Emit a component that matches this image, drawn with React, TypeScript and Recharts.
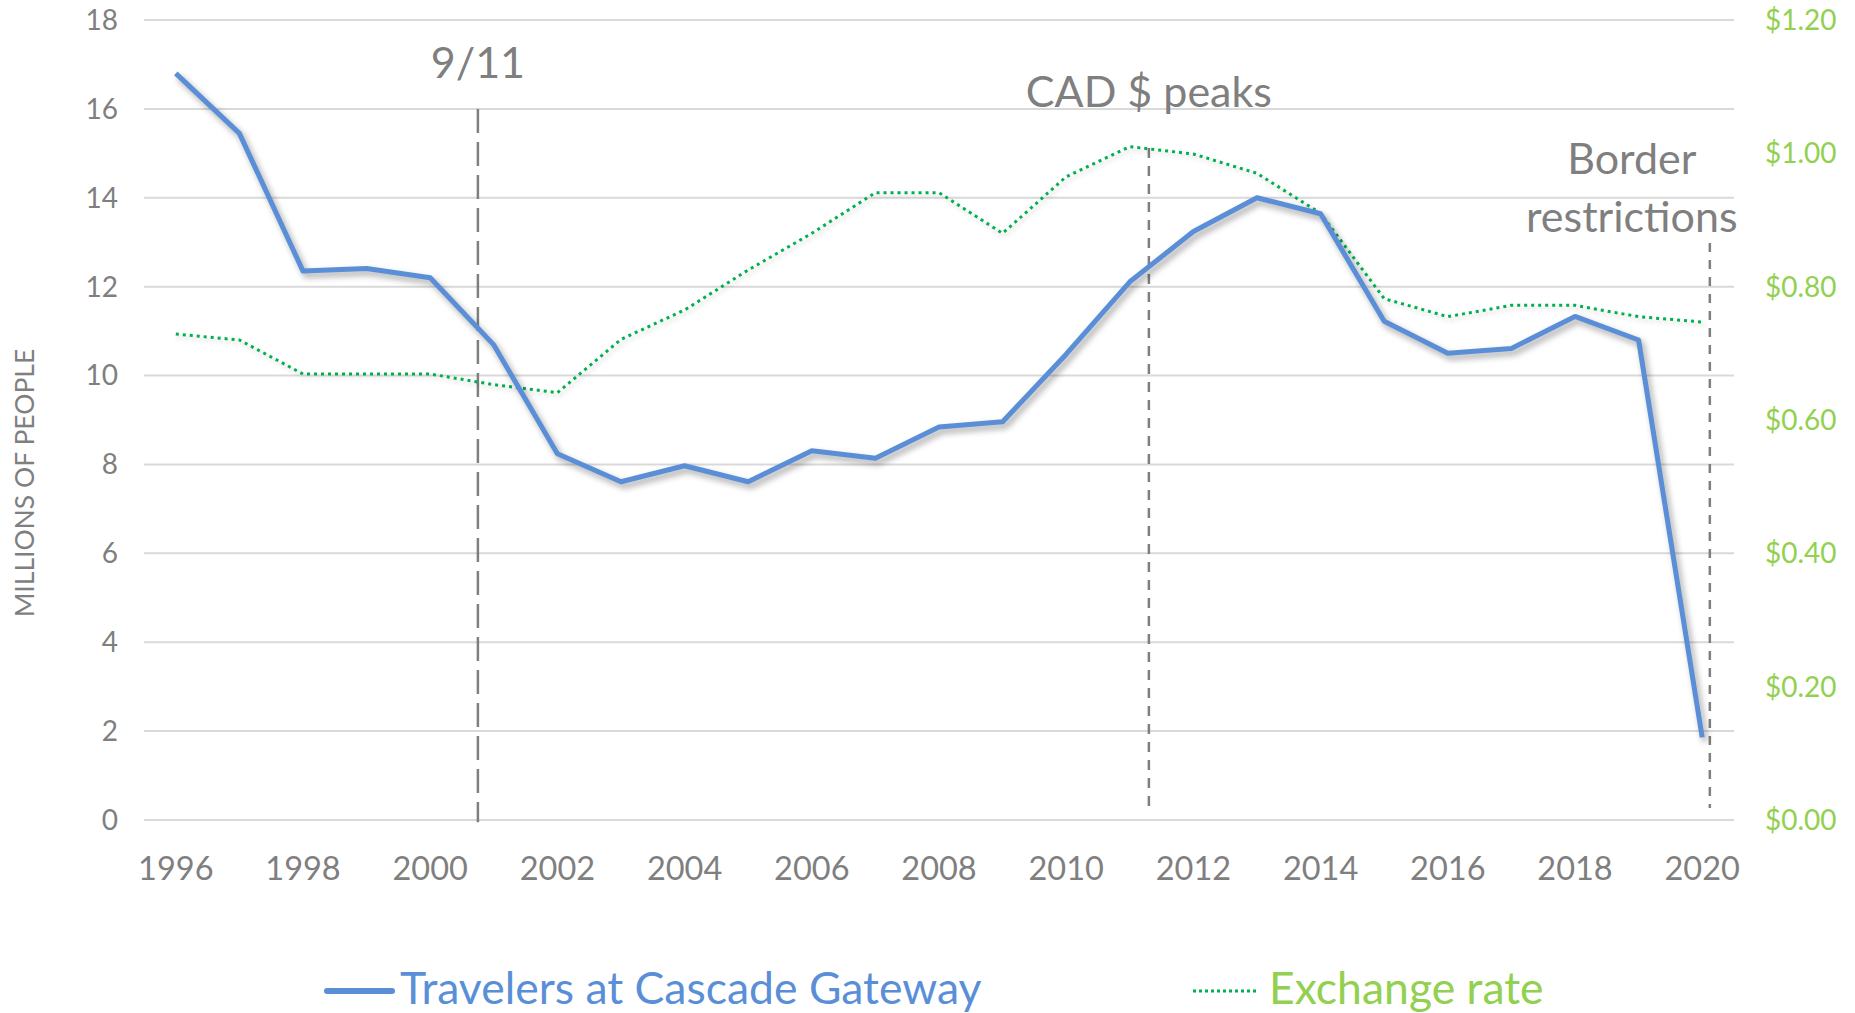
import {
  LineChart,
  Line,
  XAxis,
  YAxis,
  CartesianGrid,
  ReferenceLine,
} from "recharts";

const years = [
  1996, 1997, 1998, 1999, 2000, 2001, 2002, 2003, 2004, 2005, 2006, 2007, 2008,
  2009, 2010, 2011, 2012, 2013, 2014, 2015, 2016, 2017, 2018, 2019, 2020,
];

// millions of people crossing
const travelers = [
  16.8, 15.45, 12.35, 12.41, 12.2, 10.69, 8.24, 7.61, 7.97, 7.61, 8.31, 8.14,
  8.84, 8.96, 10.48, 12.11, 13.24, 14.0, 13.64, 11.22, 10.5, 10.61, 11.33, 10.8,
  1.86,
];

// USD per CAD
const exchange = [
  0.729, 0.72, 0.669, 0.669, 0.669, 0.653, 0.641, 0.721, 0.765, 0.825, 0.88,
  0.941, 0.941, 0.88, 0.965, 1.01, 0.999, 0.97, 0.91, 0.782, 0.755, 0.772,
  0.772, 0.755, 0.747,
];

const xTicks = [1996, 1998, 2000, 2002, 2004, 2006, 2008, 2010, 2012, 2014, 2016, 2018, 2020];
const leftTicks = [0, 2, 4, 6, 8, 10, 12, 14, 16, 18];
const rightTicks = [0, 0.2, 0.4, 0.6, 0.8, 1.0, 1.2];

// event markers: when, how far up / down the dashed line runs (left axis units)
const eventYears = [2000.75, 2011.3, 2020.12];
const eventTops = [16.0, 15.12, 12.98];
const eventBottoms = [-0.05, 0.22, 0.27];
const eventLabels = [["9/11"], ["CAD $ peaks"], ["Border", "restrictions"]];

const data = years.map((year, i) => ({
  year,
  travelers: travelers[i],
  exchange: exchange[i],
}));

const BLUE = "#5A8FD8";
const GREEN = "#00B050";
const LIGHT_GREEN = "#92D050";
const GRAY = "#7F7F7F";
const FONT = "Lato, 'Open Sans', sans-serif";

const noteStyle = [
  { dx: 0, gap: 31, dash: "24 9" },
  { dx: 0, gap: 41, dash: "10 8" },
  { dx: -78, gap: 11, dash: "9 8" },
];

const makeNote = (lines: string[], dx: number, gap: number) => (props: any) => {
  const vb = props.viewBox || {};
  const x = (vb.x ?? 0) + dx;
  const lineH = 58;
  const y0 = (vb.y ?? 0) - gap - (lines.length - 1) * lineH;
  return (
    <text
      x={x}
      y={y0}
      textAnchor="middle"
      fill={GRAY}
      fontSize={43}
      fontFamily={FONT}
    >
      {lines.map((l, i) => (
        <tspan key={i} x={x} dy={i === 0 ? 0 : lineH}>
          {l}
        </tspan>
      ))}
    </text>
  );
};

const AxisTitle = (props: any) => {
  const vb = props.viewBox || {};
  const cx = (vb.x ?? 0) + 24;
  const cy = (vb.y ?? 0) + (vb.height ?? 0) / 2 + 63;
  return (
    <text
      x={cx}
      y={cy}
      transform={`rotate(-90 ${cx} ${cy})`}
      textAnchor="middle"
      dominantBaseline="central"
      fill={GRAY}
      fontSize={26.5}
      fontFamily={FONT}
    >
      MILLIONS OF PEOPLE
    </text>
  );
};

export default function App() {
  return (
    <div style={{ position: "relative", width: 1855, height: 1013, background: "#fff" }}>
      <style>{`
        body { margin: 0; }
        .travelers .recharts-line-curve { filter: drop-shadow(3px 4px 3px rgba(0,0,0,0.35)); }
        .exchange .recharts-line-curve { filter: drop-shadow(2px 3px 2px rgba(0,0,0,0.18)); }
      `}</style>
      <LineChart
        width={1855}
        height={1013}
        data={data}
        margin={{ top: 20, right: 0, bottom: 0, left: 0 }}
      >
        <CartesianGrid
          yAxisId="left"
          vertical={false}
          stroke="#D9D9D9"
          strokeWidth={2}
        />
        <XAxis
          dataKey="year"
          type="number"
          domain={[1995.5, 2020.5]}
          ticks={xTicks}
          height={193}
          axisLine={false}
          tickLine={false}
          tickSize={0}
          tickMargin={37}
          tick={{ fill: GRAY, fontSize: 32.5, fontFamily: FONT }}
        />
        <YAxis
          yAxisId="left"
          domain={[0, 18]}
          ticks={leftTicks}
          width={144}
          axisLine={false}
          tickLine={false}
          tickSize={0}
          tickMargin={26}
          tick={{ fill: GRAY, fontSize: 28, fontFamily: FONT }}
          label={{ content: AxisTitle }}
        />
        <YAxis
          yAxisId="right"
          orientation="right"
          domain={[0, 1.2]}
          ticks={rightTicks}
          width={121}
          axisLine={false}
          tickLine={false}
          tickSize={0}
          tickMargin={31}
          tickFormatter={(v: number) => `$${v.toFixed(2)}`}
          tick={{ fill: LIGHT_GREEN, fontSize: 28, fontFamily: FONT, textAnchor: "start" }}
        />
        {eventYears.map((yr, i) => (
          <ReferenceLine
            key={yr}
            yAxisId="left"
            ifOverflow="visible"
            segment={[
              { x: yr, y: eventTops[i] },
              { x: yr, y: eventBottoms[i] },
            ]}
            stroke={GRAY}
            strokeWidth={2.5}
            strokeDasharray={noteStyle[i].dash}
            label={makeNote(eventLabels[i], noteStyle[i].dx, noteStyle[i].gap)}
          />
        ))}
        <Line
          className="exchange"
          yAxisId="right"
          dataKey="exchange"
          stroke={GREEN}
          strokeWidth={3}
          strokeDasharray="3 4"
          dot={false}
          isAnimationActive={false}
        />
        <Line
          className="travelers"
          yAxisId="left"
          dataKey="travelers"
          stroke={BLUE}
          strokeWidth={5}
          strokeLinejoin="round"
          dot={false}
          isAnimationActive={false}
        />
      </LineChart>

      <svg
        width={1855}
        height={1013}
        style={{ position: "absolute", left: 0, top: 0, pointerEvents: "none" }}
      >
        <line x1={327} x2={392} y1={991} y2={991} stroke={BLUE} strokeWidth={6} strokeLinecap="round" />
        <text x={400} y={1004} fill={BLUE} fontSize={44.5} fontFamily={FONT}>
          Travelers at Cascade Gateway
        </text>
        <line x1={1193} x2={1257} y1={991} y2={991} stroke={GREEN} strokeWidth={3} strokeDasharray="3 3" />
        <text x={1269} y={1004} fill={LIGHT_GREEN} fontSize={44.5} fontFamily={FONT}>
          Exchange rate
        </text>
      </svg>
    </div>
  );
}
